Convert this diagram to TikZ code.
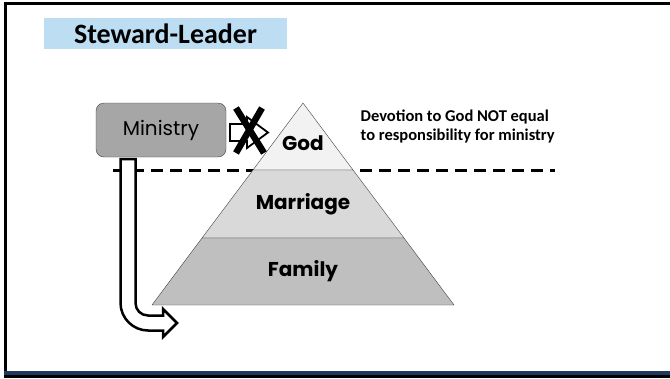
\documentclass[tikz,border=0pt]{standalone}
\usepackage{fontspec}
\setmainfont{Carlito}
\newfontfamily\gothic{Poppins}
\usetikzlibrary{positioning}
\definecolor{celeste}{RGB}{189,221,242}
\definecolor{barra}{RGB}{31,58,94}
\definecolor{cinza}{RGB}{166,166,166}
\definecolor{contorno}{RGB}{64,64,64}
\tikzset{%
  titlebox/.style={fill=celeste,minimum width=243pt,minimum height=31pt,inner sep=0pt,font=\bfseries\fontsize{28}{32}\selectfont},
  minbox/.style={fill=cinza,draw=contorno,thin,rounded corners=8pt,minimum width=130pt,minimum height=54pt,inner sep=0pt,font=\gothic\fontsize{20}{24}\selectfont},
  layer/.style={fill=#1,draw=contorno,thin,line join=round},
  layerst/.style={inner sep=0pt,font=\gothic\bfseries\fontsize{20}{24}\selectfont},
  notest/.style={inner sep=0pt,align=left,font=\bfseries\fontsize{16.5}{18.5}\selectfont},
  divide/.style={draw=black,line width=3pt,dash pattern=on 12pt off 7pt},
  blockarrow/.style={draw=black,fill=white,line width=2.5pt,line join=miter},
  cross/.style={draw=black,line width=6.5pt}
}
\begin{document}
\begin{tikzpicture}[x=1pt,y=-1pt]
  \useasboundingbox (0,0) rectangle (670,378);
  \fill[black] (4,2) rectangle (670,5);
  \fill[black] (4,2) rectangle (6.5,375);
  \fill[barra] (4,371) rectangle (670,375);
  \fill[black] (4,375) rectangle (670,378);

  \node[titlebox] (title) at (165.5,33.5) {Steward-Leader};

  \draw[divide] (113,170) -- (555,170);

  \draw[layer=black!5] (303,103) -- (253,170) -- (353,170) -- cycle;
  \draw[layer=black!15] (253,170) -- (202,238) -- (404,238) -- (353,170) -- cycle;
  \draw[layer=black!25] (202,238) -- (152,305) -- (454,305) -- (404,238) -- cycle;
  \node[layerst] (god) at (303,143) {God};
  \node[layerst] (marriage) at (303,204) {Marriage};
  \node[layerst] (family) at (303,271) {Family};

  \node[minbox] (ministry) at (161,130) {Ministry};

  \node[notest,anchor=north west] (note) at (360.5,110) {Devotion to God NOT equal\\to responsibility for ministry};

  \draw[blockarrow] (120.5,159) -- (120.5,303)
    .. controls (120.5,318) and (133,330.5) .. (148,330.5)
    -- (163,330.5) -- (163,337) -- (177,323) -- (163,309) -- (163,315.5) -- (148,315.5)
    .. controls (141,315.5) and (135.5,310) .. (135.5,303)
    -- (135.5,159) -- cycle;

  \draw[blockarrow,line width=1.8pt] (230,124) -- (247,124) -- (247,117) -- (268,132.5) -- (247,148) -- (247,141) -- (230,141) -- cycle;
  \draw[cross] (236,108) -- (264,153);
  \draw[cross] (262,108) -- (236,153);
\end{tikzpicture}
\end{document}
